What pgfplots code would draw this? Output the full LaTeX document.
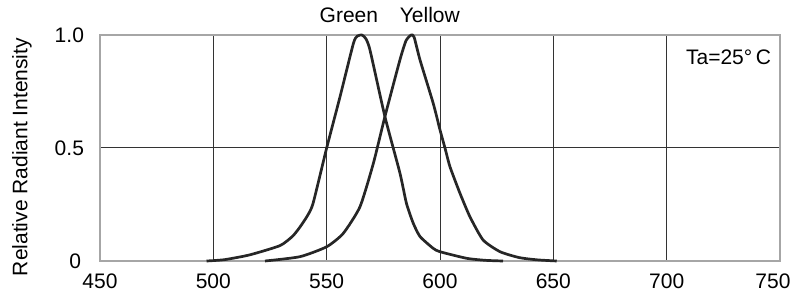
\documentclass[border=0pt]{standalone}
\usepackage{fontspec}
\setmainfont{Liberation Sans}
\usepackage{pgfplots}
\pgfplotsset{compat=1.18}
\newcommand\f{\fontsize{10.5pt}{12pt}\selectfont}
\begin{document}
\begin{tikzpicture}
\useasboundingbox (-50pt,-19pt) rectangle (346pt,130.5pt);
\begin{axis}[
  at={(0,0)}, anchor=south west,
  scale only axis, width=340pt, height=113pt,
  xmin=450, xmax=750, ymin=0, ymax=1,
  xtick={450,500,550,600,650,700,750},
  xticklabels={450,500,550,600,650,700,{\raisebox{1pt}{750}\kern7pt}},
  ytick={0,0.5,1},
  yticklabels={{0\kern1.5pt},0.5,1.0},
  major tick length=0pt,
  axis line style={gray!70, line width=0.6pt},
  grid=major,
  grid style={black!80, line width=0.5pt},
  xticklabel style={font=\f, yshift=-3pt},
  yticklabel style={font=\f, anchor=east, xshift=-4.5pt},
  ylabel={Relative Radiant Intensity},
  every axis y label/.style={at={(axis description cs:-0.1147,0.46)}, rotate=90, anchor=center, font=\f},
  clip=false,
  /pgf/number format/assume math mode=true,
]
\addplot[black!85, line width=1.35pt, smooth, tension=0.35] coordinates {
(497,0) (505,0.006) (516,0.027) (529.4,0.068) (535,0.11) (538.2,0.15) (541.5,0.2) (544,0.255)
(550,0.5) (555.9,0.727) (561.8,0.963) (563.5,0.995) (565.5,1.0) (567.2,0.985) (569.1,0.934)
(575.7,0.639) (582.3,0.39) (585.2,0.255) (588.2,0.167) (591.2,0.108) (597,0.056) (600,0.041) (611.7,0.012) (620,0.003) (627.8,0)
};
\addplot[black!85, line width=1.35pt, smooth, tension=0.35] coordinates {
(522.8,0) (538.2,0.019) (550,0.063) (557.3,0.122) (564.7,0.24) (570.6,0.432)
(575.7,0.639) (582.3,0.889) (585,0.975) (587.3,1.0) (588.6,0.99)
(591.2,0.889) (597,0.698) (600,0.58) (602.2,0.5) (604.4,0.417) (608.8,0.30) (613.2,0.196) (619,0.093) (626.5,0.041) (635,0.015) (643,0.005) (651.5,0)
};
\node[font=\f] at (axis cs:559.8,1) [yshift=10pt] {Green};
\node[font=\f] at (axis cs:595.5,1) [yshift=10pt] {Yellow};
\node[font=\f, anchor=east] at (rel axis cs:1,1) [yshift=-11pt, xshift=-1pt] {Ta=25°\,C};
\end{axis}
\end{tikzpicture}
\end{document}
